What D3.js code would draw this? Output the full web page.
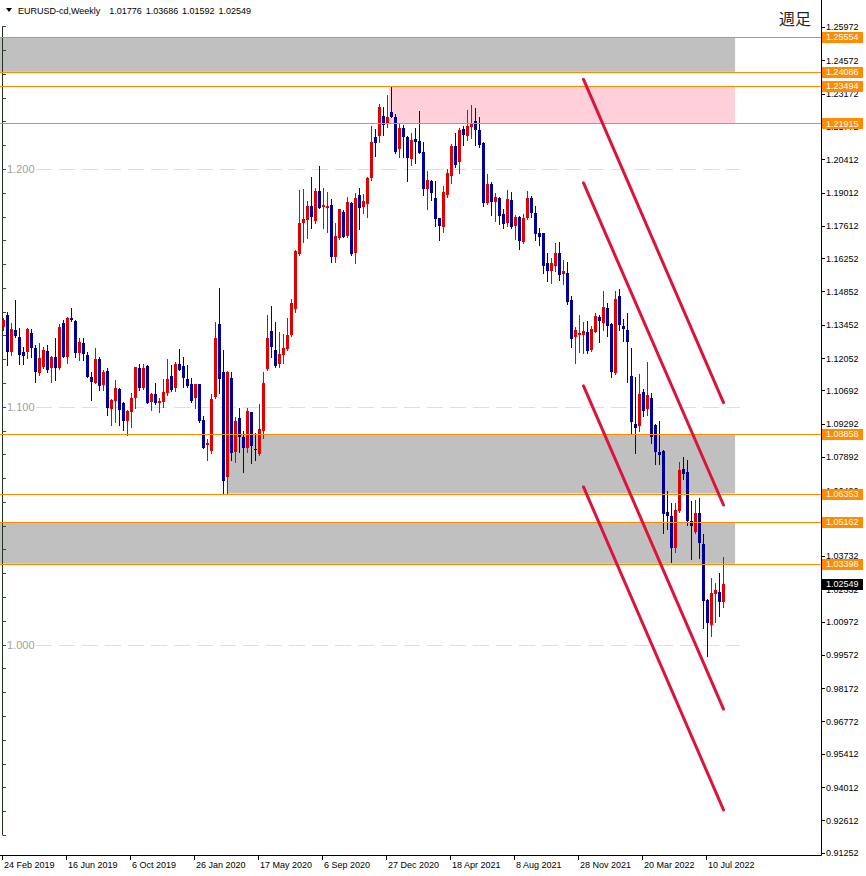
<!DOCTYPE html>
<html>
  <head>
    <title>EURUSD Weekly</title>
    <script src="https://d3js.org/d3.v7.min.js"></script>
    <style>
        body { margin: 0; background: white; }
        svg { display: block; font-family: "Liberation Sans", Arial, sans-serif; }
    </style>
  </head>
  <body>
    <div id="chart"></div>
  </body>
  <script>
    // weekly candles, first one is the week of 24 Feb 2019
    const startWeek = new Date(2019, 1, 24);

    const open = [
      1.1336, 1.1386, 1.1232, 1.1323, 1.1295, 1.1232, 1.1229, 1.1309, 1.1246, 1.1144,
      1.1169, 1.1235, 1.1162, 1.1211, 1.1162, 1.1351, 1.1211, 1.1375, 1.1361, 1.1225,
      1.1267, 1.1218, 1.1127, 1.1101, 1.1201, 1.1092, 1.1151, 1.0990, 1.1024, 1.1075,
      1.1015, 1.0940, 1.0980, 1.1036, 1.1162, 1.1078, 1.1172, 1.1022, 1.1054, 1.1017,
      1.1022, 1.1057, 1.1130, 1.1078, 1.1180, 1.1172, 1.1117, 1.1096, 1.1036, 1.1096,
      1.0945, 1.0839, 1.0814, 1.1043, 1.1348, 1.1145, 1.0706, 1.1121, 1.0811, 1.0952,
      1.0874, 1.0828, 1.0977, 1.0821, 1.0802, 1.0900, 1.1158, 1.1319, 1.1239, 1.1180,
      1.1218, 1.1242, 1.1302, 1.1410, 1.1643, 1.1774, 1.1786, 1.1844, 1.1783, 1.1908,
      1.1841, 1.1837, 1.1849, 1.1629, 1.1711, 1.1818, 1.1718, 1.1858, 1.1648, 1.1891,
      1.1841, 1.1853, 1.1961, 1.2133, 1.2139, 1.2223, 1.2188, 1.2241, 1.2220, 1.2084,
      1.2174, 1.2133, 1.2041, 1.2126, 1.2118, 1.2073, 1.1916, 1.1950, 1.1879, 1.1793,
      1.1757, 1.1891, 1.1971, 1.2098, 1.2031, 1.2168, 1.2140, 1.2178, 1.2202, 1.2164,
      1.2111, 1.1858, 1.1937, 1.1863, 1.1879, 1.1811, 1.1774, 1.1870, 1.1760, 1.1800,
      1.1694, 1.1795, 1.1880, 1.1813, 1.1733, 1.1730, 1.1603, 1.1572, 1.1593, 1.1648,
      1.1559, 1.1564, 1.1449, 1.1292, 1.1302, 1.1302, 1.1316, 1.1239, 1.1316, 1.1379,
      1.1354, 1.1416, 1.1348, 1.1141, 1.1466, 1.1340, 1.1323, 1.1130, 1.0928, 1.0921,
      1.1061, 1.0990, 1.1036, 1.0924, 1.0811, 1.0816, 1.0556, 1.0542, 1.0408, 1.0562,
      1.0739, 1.0725, 1.0520, 1.0475, 1.0552, 1.0423, 1.0188, 1.0083, 1.0213, 1.0220,
      1.01776
    ];
    const high = [
      1.1373, 1.1399, 1.1351, 1.1449, 1.1330, 1.1253, 1.1333, 1.1326, 1.1260, 1.1267,
      1.1253, 1.1260, 1.1215, 1.1288, 1.1347, 1.1365, 1.1378, 1.1414, 1.1363, 1.1291,
      1.1288, 1.1232, 1.1148, 1.1246, 1.1211, 1.1155, 1.1162, 1.1031, 1.1113, 1.1078,
      1.1022, 1.0987, 1.1057, 1.1168, 1.1180, 1.1180, 1.1176, 1.1059, 1.1101, 1.1036,
      1.1117, 1.1201, 1.1176, 1.1190, 1.1242, 1.1208, 1.1176, 1.1120, 1.1098, 1.1098,
      1.0961, 1.0865, 1.1053, 1.1355, 1.1498, 1.1239, 1.1152, 1.1145, 1.0958, 1.0994,
      1.0900, 1.0994, 1.0980, 1.0889, 1.1012, 1.1147, 1.1386, 1.1424, 1.1358, 1.1313,
      1.1306, 1.1375, 1.1453, 1.1659, 1.1912, 1.1916, 1.1866, 1.1968, 1.1919, 1.2013,
      1.1921, 1.1905, 1.1874, 1.1772, 1.1832, 1.1828, 1.1884, 1.1860, 1.1898, 1.1921,
      1.1895, 1.1968, 1.2181, 1.2168, 1.2273, 1.2259, 1.2311, 1.2349, 1.2231, 1.2192,
      1.2185, 1.2139, 1.2153, 1.2174, 1.2244, 1.2115, 1.1993, 1.1952, 1.1950, 1.1795,
      1.1929, 1.1999, 1.2104, 1.2153, 1.2171, 1.2182, 1.2248, 1.2269, 1.2258, 1.2220,
      1.2115, 1.1978, 1.1947, 1.1898, 1.1884, 1.1832, 1.1912, 1.1902, 1.1807, 1.1804,
      1.1810, 1.1909, 1.1885, 1.1845, 1.1750, 1.1733, 1.1646, 1.1625, 1.1690, 1.1694,
      1.1617, 1.1610, 1.1466, 1.1334, 1.1386, 1.1358, 1.1362, 1.1340, 1.1393, 1.1386,
      1.1488, 1.1438, 1.1352, 1.1488, 1.1495, 1.1368, 1.1393, 1.1249, 1.1124, 1.1138,
      1.1074, 1.1187, 1.1057, 1.0926, 1.0940, 1.0819, 1.0646, 1.0594, 1.0594, 1.0769,
      1.0788, 1.0777, 1.0604, 1.0608, 1.0615, 1.0465, 1.0190, 1.0279, 1.0258, 1.0300,
      1.03686
    ];
    const low = [
      1.1323, 1.1176, 1.1218, 1.1294, 1.1180, 1.1180, 1.1204, 1.1211, 1.1106, 1.1134,
      1.1162, 1.1148, 1.1106, 1.1113, 1.1159, 1.1208, 1.1183, 1.1362, 1.1211, 1.1197,
      1.1197, 1.1124, 1.1029, 1.1099, 1.1071, 1.1071, 1.0966, 1.0924, 1.0938, 1.0924,
      1.0903, 1.0882, 1.0917, 1.0994, 1.1071, 1.1074, 1.1015, 1.0987, 1.1012, 1.0980,
      1.1001, 1.1050, 1.1067, 1.1067, 1.1155, 1.1085, 1.1085, 1.1022, 1.0994, 1.0936,
      1.0826, 1.0777, 1.0805, 1.1036, 1.1057, 1.0639, 1.0636, 1.0777, 1.0769, 1.0811,
      1.0727, 1.0811, 1.0765, 1.0777, 1.0798, 1.0870, 1.1155, 1.1211, 1.1169, 1.1169,
      1.1183, 1.1239, 1.1298, 1.1400, 1.1638, 1.1694, 1.1709, 1.1753, 1.1772, 1.1835,
      1.1751, 1.1737, 1.1610, 1.1610, 1.1706, 1.1713, 1.1715, 1.1640, 1.1604, 1.1746,
      1.1814, 1.1800, 1.1954, 1.2055, 1.2115, 1.2143, 1.2178, 1.2218, 1.2068, 1.2052,
      1.2052, 1.1951, 1.2017, 1.2024, 1.2066, 1.1891, 1.1832, 1.1870, 1.1762, 1.1702,
      1.1734, 1.1884, 1.1940, 1.2010, 1.1982, 1.2101, 1.2122, 1.2129, 1.2101, 1.2091,
      1.1844, 1.1853, 1.1807, 1.1783, 1.1769, 1.1751, 1.1762, 1.1751, 1.1706, 1.1664,
      1.1690, 1.1790, 1.1800, 1.1700, 1.1681, 1.1562, 1.1530, 1.1522, 1.1572, 1.1533,
      1.1515, 1.1432, 1.1250, 1.1186, 1.1232, 1.1228, 1.1225, 1.1236, 1.1313, 1.1274,
      1.1323, 1.1298, 1.1124, 1.1138, 1.1323, 1.1278, 1.1106, 1.0889, 1.0807, 1.0898,
      1.0963, 1.0966, 1.0847, 1.0758, 1.0760, 1.0471, 1.0485, 1.0349, 1.0391, 1.0559,
      1.0695, 1.0503, 1.0360, 1.0471, 1.0366, 1.0071, 0.9954, 1.0036, 1.0096, 1.0120,
      1.01592
    ];
    const close = [
      1.1365, 1.1232, 1.1327, 1.1299, 1.1218, 1.1215, 1.1326, 1.1246, 1.1148, 1.1204,
      1.1239, 1.1155, 1.1211, 1.1162, 1.1337, 1.1211, 1.1375, 1.1365, 1.1225, 1.1274,
      1.1222, 1.1127, 1.1106, 1.1201, 1.1089, 1.1148, 1.0994, 1.1029, 1.1078, 1.0987,
      1.0940, 1.0982, 1.1036, 1.1166, 1.1078, 1.1162, 1.1017, 1.1054, 1.1017, 1.1026,
      1.1061, 1.1117, 1.1071, 1.1180, 1.1155, 1.1122, 1.1088, 1.1026, 1.1096, 1.0942,
      1.0828, 1.0849, 1.1033, 1.1288, 1.1116, 1.0689, 1.1148, 1.0805, 1.0940, 1.0874,
      1.0826, 1.0982, 1.0837, 1.0819, 1.0906, 1.1100, 1.1288, 1.1253, 1.1173, 1.1222,
      1.1249, 1.1302, 1.1438, 1.1657, 1.1772, 1.1790, 1.1844, 1.1797, 1.1908, 1.1837,
      1.1849, 1.1846, 1.1631, 1.1718, 1.1832, 1.1715, 1.1860, 1.1641, 1.1877, 1.1835,
      1.1865, 1.1963, 1.2115, 1.2111, 1.2262, 1.2185, 1.2218, 1.2220, 1.2073, 1.2174,
      1.2133, 1.2048, 1.2122, 1.2115, 1.2069, 1.1916, 1.1954, 1.1900, 1.1790, 1.1762,
      1.1905, 1.1984, 1.2098, 1.2017, 1.2164, 1.2143, 1.2181, 1.2195, 1.2164, 1.2101,
      1.1858, 1.1937, 1.1863, 1.1881, 1.1804, 1.1769, 1.1874, 1.1757, 1.1800, 1.1699,
      1.1795, 1.1880, 1.1813, 1.1728, 1.1716, 1.1594, 1.1572, 1.1603, 1.1648, 1.1554,
      1.1572, 1.1442, 1.1284, 1.1323, 1.1312, 1.1319, 1.1236, 1.1327, 1.1382, 1.1362,
      1.1418, 1.1340, 1.1148, 1.1453, 1.1344, 1.1326, 1.1274, 1.0938, 1.0912, 1.1054,
      1.0984, 1.1050, 1.0874, 1.0811, 1.0797, 1.0548, 1.0541, 1.0408, 1.0566, 1.0735,
      1.0718, 1.0520, 1.0500, 1.0552, 1.0429, 1.0185, 1.0090, 1.0218, 1.0230, 1.0181,
      1.02549
    ];

    // price axis tick values (as printed by the terminal)
    const priceTicks = [1.25972, 1.24572, 1.23172, 1.21772, 1.20412, 1.19012, 1.17612, 1.16252,
      1.14852, 1.13452, 1.12052, 1.10692, 1.09292, 1.07892, 1.06492, 1.03732, 1.02332,
      1.00972, 0.99572, 0.98172, 0.96772, 0.95412, 0.94012, 0.92612, 0.91252];
    const roundLevels = [1.2, 1.1, 1.0];
    const levels = [1.25554, 1.24086, 1.23494, 1.21915, 1.08858, 1.06353, 1.05162, 1.03398];
    const lastPrice = 1.02549;
    const header = ["1.01776", "1.03686", "1.01592", "1.02549"];

    // zones: price band and the bar index where they start / end
    const zoneTop    = [1.25554, 1.23494, 1.08858, 1.05162];
    const zoneBottom = [1.24086, 1.21915, 1.06353, 1.03398];
    const zoneFrom   = [-2, 96.4, 55.8, -2];
    const zoneTo     = [182.9, 182.9, 182.9, 182.9];
    const zoneFill   = ["#c0c0c0", "#ffd0da", "#c0c0c0", "#c0c0c0"];

    // channel lines (bar index, price)
    const chanFromBar = 145, chanToBar = 180;
    const chanFrom = [1.2377, 1.1942, 1.1088, 1.0663];
    const chanTo   = [1.1018, 1.0587, 0.9729, 0.9305];

    const W = 866, H = 876;
    const plotW = 821, plotH = 855;
    const bull = "#e10000", bear = "#000096";

    const dates = d3.range(open.length).map(i => d3.timeWeek.offset(startWeek, i));
    const candles = dates.map((d, i) => ({i: i, date: d, o: open[i], h: high[i], l: low[i], c: close[i]}));

    const x = d3.scaleLinear().domain([0, 180]).range([3.5, 723.5]);
    const y = d3.scaleLinear().domain([0.91153, 1.27107]).range([plotH, 0]);
    const py = v => Math.round(y(v)) + 0.5;

    const svg = d3.select("#chart").append("svg")
        .attr("width", W)
        .attr("height", H);

    svg.append("rect").attr("width", W).attr("height", H).attr("fill", "white");

    svg.append("clipPath").attr("id", "plot")
      .append("rect").attr("width", plotW).attr("height", plotH);

    const g = svg.append("g").attr("clip-path", "url(#plot)");

    // zones
    g.selectAll("rect.zone")
      .data(zoneTop)
      .enter()
      .append("rect")
      .attr("class", "zone")
      .attr("x", (d, k) => x(zoneFrom[k]))
      .attr("width", (d, k) => x(zoneTo[k]) - x(zoneFrom[k]))
      .attr("y", d => y(d))
      .attr("height", (d, k) => y(zoneBottom[k]) - y(d))
      .attr("fill", (d, k) => zoneFill[k]);

    // round number levels
    g.selectAll("line.round")
      .data(roundLevels)
      .enter()
      .append("line")
      .attr("x1", 36).attr("x2", 740)
      .attr("y1", d => py(d)).attr("y2", d => py(d))
      .style("stroke", "#dcdcf0")
      .style("stroke-dasharray", "16,7");
    g.selectAll("text.round")
      .data(roundLevels)
      .enter()
      .append("text")
      .attr("x", 7)
      .attr("y", d => y(d) + 4)
      .attr("font-size", "11px")
      .attr("fill", "#a0a0a0")
      .text(d => d3.format(".3f")(d));

    // left scale line with small ticks every 0.01
    g.append("line")
      .attr("x1", 2.5).attr("x2", 2.5)
      .attr("y1", y(1.26)).attr("y2", y(0.92))
      .style("stroke", "#223322");
    g.selectAll("line.lt")
      .data(d3.range(92, 127).map(v => v / 100))
      .enter()
      .append("line")
      .attr("x1", 2.5).attr("x2", 6)
      .attr("y1", d => py(d)).attr("y2", d => py(d))
      .style("stroke", "#2f4f2f");

    // candles
    const cg = g.selectAll("g.candle")
      .data(candles)
      .enter()
      .append("g");
    cg.append("line")
      .attr("x1", d => x(d.i)).attr("x2", d => x(d.i))
      .attr("y1", d => Math.round(y(d.h))).attr("y2", d => Math.round(y(d.l)) + 1)
      .style("stroke", d => d.c >= d.o ? bull : bear)
      .style("stroke-width", 1);
    cg.append("rect")
      .attr("x", d => x(d.i) - 1.5)
      .attr("width", 3)
      .attr("y", d => Math.round(y(Math.max(d.o, d.c))))
      .attr("height", d => Math.max(1, Math.round(y(Math.min(d.o, d.c))) - Math.round(y(Math.max(d.o, d.c)))))
      .attr("fill", d => d.c >= d.o ? bull : bear);

    // horizontal levels
    g.selectAll("line.level")
      .data(levels)
      .enter()
      .append("line")
      .attr("x1", 0).attr("x2", plotW)
      .attr("y1", d => py(d)).attr("y2", d => py(d))
      .style("stroke", "#ff8c00")
      .style("stroke-width", 1);

    // channel lines
    g.selectAll("line.chan")
      .data(chanFrom)
      .enter()
      .append("line")
      .attr("x1", x(chanFromBar)).attr("x2", x(chanToBar))
      .attr("y1", d => y(d)).attr("y2", (d, k) => y(chanTo[k]))
      .style("stroke", "#dc143c")
      .style("stroke-width", 3)
      .style("stroke-linecap", "round");

    // frame
    svg.append("line")
      .attr("x1", plotW + 0.5).attr("x2", plotW + 0.5)
      .attr("y1", 0).attr("y2", plotH + 0.5)
      .style("stroke", "black");
    svg.append("line")
      .attr("x1", 0).attr("x2", plotW + 0.5)
      .attr("y1", plotH + 0.5).attr("y2", plotH + 0.5)
      .style("stroke", "black");

    // price axis
    svg.selectAll("line.ptick")
      .data(priceTicks)
      .enter()
      .append("line")
      .attr("x1", plotW).attr("x2", plotW + 4)
      .attr("y1", d => py(d)).attr("y2", d => py(d))
      .style("stroke", "black");
    svg.selectAll("text.ptick")
      .data(priceTicks)
      .enter()
      .append("text")
      .attr("x", 826)
      .attr("y", d => y(d) + 3.5)
      .attr("font-size", "9px")
      .attr("fill", "black")
      .text(d => d3.format(".5f")(d));

    // level price labels
    const lab = svg.selectAll("g.lab")
      .data(levels.concat([lastPrice]))
      .enter()
      .append("g");
    lab.append("rect")
      .attr("x", 822).attr("width", 41)
      .attr("y", d => Math.round(y(d)) - 5).attr("height", 11)
      .attr("fill", d => d === lastPrice ? "black" : "#ff8c00");
    lab.append("text")
      .attr("x", 826)
      .attr("y", d => y(d) + 3.5)
      .attr("font-size", "9px")
      .attr("fill", "white")
      .text(d => d3.format(".5f")(d));

    // date axis, one label every 16 weeks
    const fmt = d3.timeFormat("%-d %b %Y");
    const dateTicks = d3.range(0, candles.length, 16);
    svg.selectAll("line.dtick")
      .data(dateTicks)
      .enter()
      .append("line")
      .attr("x1", d => Math.round(x(d)) - 1.5).attr("x2", d => Math.round(x(d)) - 1.5)
      .attr("y1", plotH).attr("y2", plotH + 5)
      .style("stroke", "black");
    svg.selectAll("text.dtick")
      .data(dateTicks)
      .enter()
      .append("text")
      .attr("x", d => x(d) + 0.5)
      .attr("y", 868)
      .attr("font-size", "9px")
      .attr("fill", "black")
      .text(d => fmt(dates[d]));

    // header
    svg.append("path")
      .attr("d", "M6,8 L12,8 L9,12 Z")
      .attr("fill", "black");
    svg.append("text")
      .attr("x", 18).attr("y", 14)
      .attr("font-size", "9px")
      .text("EURUSD-cd,Weekly");
    svg.selectAll("text.hdr")
      .data(header)
      .enter()
      .append("text")
      .attr("x", (d, k) => 109.3 + k * 36.4)
      .attr("y", 14)
      .attr("font-size", "9px")
      .text(d => d);

    svg.append("text")
      .attr("x", 779).attr("y", 25)
      .attr("font-size", "16px")
      .attr("font-family", "'Noto Sans CJK JP', sans-serif")
      .attr("fill", "#222")
      .text("週足");
  </script>
</html>
